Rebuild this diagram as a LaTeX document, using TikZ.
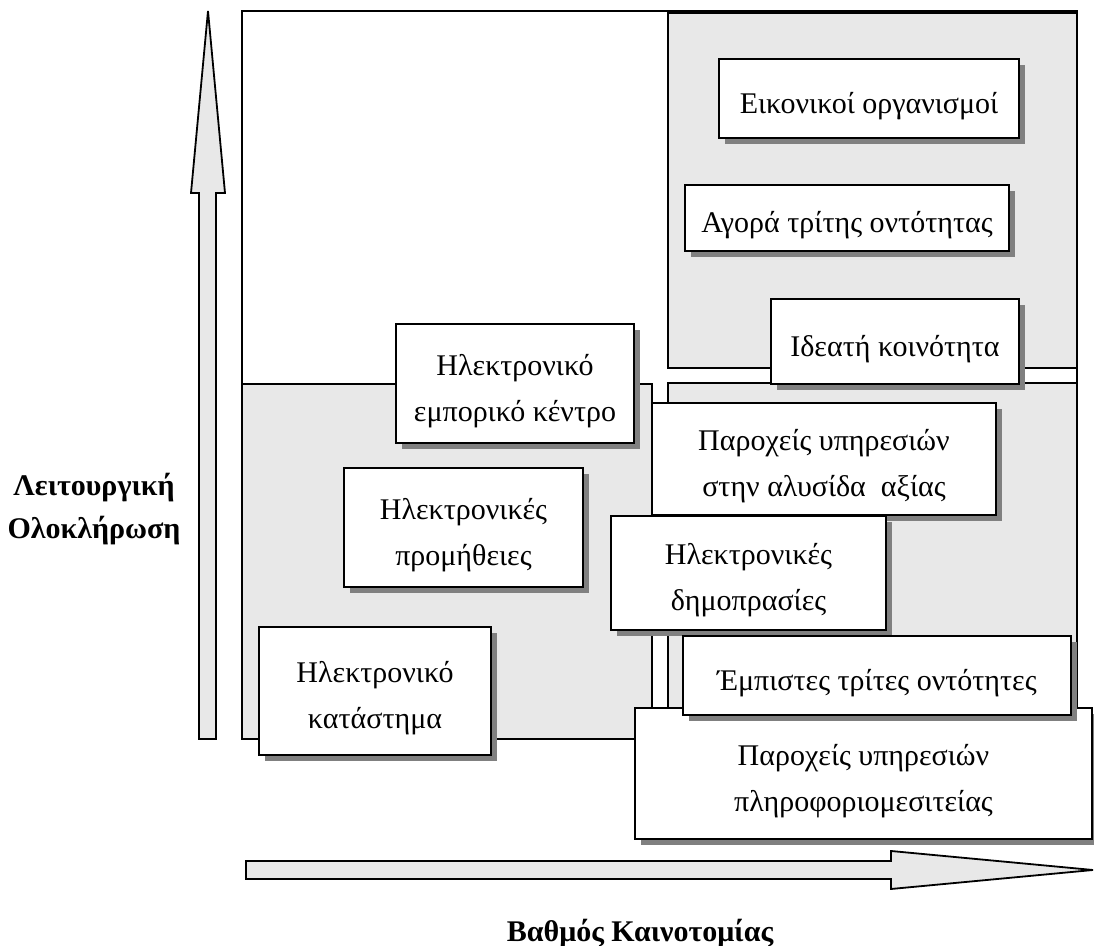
\documentclass[tikz,border=0pt]{standalone}
\usepackage{fontspec}
\setmainfont{Liberation Serif}
\usetikzlibrary{shadows,fit}
\definecolor{panelgray}{HTML}{E8E8E8}
\definecolor{shadegray}{HTML}{808080}
\tikzset{
  panel/.style={draw=black, fill=panelgray, line width=1pt},
  card/.style={draw=black, fill=white, line width=1pt, inner sep=0pt,
    drop shadow={shadow xshift=3pt, shadow yshift=-3pt, fill=shadegray, opacity=1}},
  cardtext/.style={inner sep=0pt, align=center, font=\fontsize{15}{23}\selectfont},
  axislabel/.style={font=\bfseries\fontsize{15}{21.5}\selectfont, anchor=base, inner sep=0pt},
  bigarrow/.style={draw=black, fill=panelgray, line width=0.9pt, line join=miter}
}
% a shadowed box spanning two corners, with its caption set a little below centre
\newcommand\modelbox[4]{%
  \node[card, fit={#2 #3}] (#1) {};
  \node[cardtext] (#1-text) at ([yshift=-3.75pt]#1.center) {#4};
}
\begin{document}
\begin{tikzpicture}[x=0.5pt,y=-0.5pt]
\useasboundingbox (0,0) rectangle (1094,946);
\clip (0,0) rectangle (1094,946);

% outer frame and the three shaded quadrants
\draw[line width=1pt, fill=white] (242,11) rectangle (1077,739);
\draw[panel] (668,13) rectangle (1077,368);
\draw[panel] (242,384) rectangle (652,739);
\draw[panel] (668,383) rectangle (1077,739);

% axis arrows
\draw[bigarrow] (199,739) -- (199,193) -- (191,193) -- (208,11) -- (225,193)
  -- (216,193) -- (216,739) -- cycle;
\draw[bigarrow] (246,861) -- (891,861) -- (891,851) -- (1093,870) -- (891,889)
  -- (891,879) -- (246,879) -- cycle;

% business models
\modelbox{virt}{(719,59)}{(1019,138)}{Εικονικοί οργανισμοί}
\modelbox{market}{(685,185)}{(1009,251)}{Αγορά τρίτης οντότητας}
\modelbox{community}{(771,299)}{(1019,384)}{Ιδεατή κοινότητα}
\modelbox{mall}{(396,324)}{(634,443)}{Ηλεκτρονικό\\εμπορικό κέντρο}
\modelbox{procure}{(344,468)}{(583,587)}{Ηλεκτρονικές\\προμήθειες}
\modelbox{shop}{(259,627)}{(491,755)}{Ηλεκτρονικό\\κατάστημα}
\modelbox{chain}{(652,403)}{(996,515)}{Παροχείς υπηρεσιών\\στην αλυσίδα\ \ αξίας}
\modelbox{auction}{(611,516)}{(886,630)}{Ηλεκτρονικές\\δημοπρασίες}
\modelbox{broker}{(635,708)}{(1092,839)}{Παροχείς υπηρεσιών\\πληροφοριομεσιτείας}
\modelbox{trust}{(683,636)}{(1071,715)}{Έμπιστες τρίτες οντότητες}

% axis titles
\node[axislabel] (yla) at (94,496) {Λειτουργική};
\node[axislabel] (ylb) at (94,539) {Ολοκλήρωση};
\node[axislabel] (xl) at (640,942) {Βαθμός Καινοτομίας};
\end{tikzpicture}
\end{document}
